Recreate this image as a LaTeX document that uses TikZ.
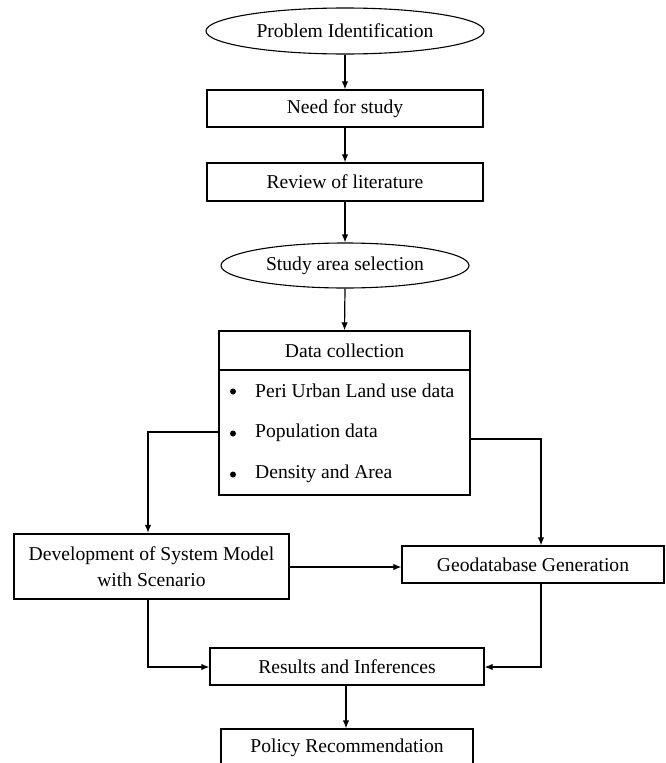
\documentclass[tikz,border=0pt]{standalone}
\usepackage{fontspec}
\setmainfont{Liberation Serif}
\usetikzlibrary{shapes.geometric,arrows.meta}
\begin{document}
\begin{tikzpicture}[x=1pt,y=-1pt,
  font=\fontsize{19.6}{24}\selectfont,
  box/.style={draw, line width=1.3pt, rectangle, inner sep=0pt, align=center},
  oval/.style={draw, line width=1.1pt, ellipse, inner sep=0pt},
  arr/.style={line width=1.2pt, -{Latex[length=8pt,width=6.5pt]}},
  dot/.style={circle, fill, inner sep=0pt, minimum size=6pt},
  item/.style={anchor=west, inner sep=0pt}]
\useasboundingbox (0,0) rectangle (665,763);
\clip (0,0) rectangle (665,763);

\node[oval, minimum width=278, minimum height=46] (pi) at (345,31) {Problem Identification};
\node[box, minimum width=276, minimum height=37] (need) at (345,108.5) {Need for study};
\node[box, minimum width=276, minimum height=38] (rev) at (345,182) {Review of literature};
\node[oval, minimum width=248, minimum height=45] (study) at (345,265.5) {Study area selection};
\node[box, minimum width=251, minimum height=39] (dhead) at (344.5,350.5) {Data collection};
\node[box, minimum width=251, minimum height=125] (dbody) at (344.5,432.5) {};
\node[dot] (b1) at (233,391.5) {};
\node[item] (t1) at (255,391) {Peri Urban Land use data};
\node[dot] (b2) at (233,433.5) {};
\node[item] (t2) at (255,433) {Population data};
\node[dot] (b3) at (233,474.5) {};
\node[item] (t3) at (255,474) {Density and Area};

\node[box, line width=2.4pt, minimum width=275, minimum height=65, font=\fontsize{19.6}{26}\selectfont] (dev) at (151.5,566.5) {Development of System Model\\with Scenario};
\node[box, minimum width=262, minimum height=37] (geo) at (533,564.5) {Geodatabase\ Generation};
\node[box, minimum width=274, minimum height=37] (res) at (347,666.5) {Results and Inferences};
\node[box, minimum width=252, minimum height=44] (pol) at (347,751) {};
\node (polt) at (347,748) {Policy Recommendation};

\draw[arr] (pi.south) -- (need.north);
\draw[arr] (need.south) -- (rev.north);
\draw[arr] (rev.south) -- (study.north);
\draw[arr] (study.south) -- (dhead.north);

\coordinate (lk) at (148,432);
\coordinate (rk) at (541,439);
\draw[arr] (dbody.west |- lk) -- (lk) -- (lk |- dev.north);
\draw[arr] (dbody.east |- rk) -- (rk) -- (rk |- geo.north);
\draw[arr] (dev.east |- 0,567) -- (geo.west |- 0,567);

\coordinate (lb) at (148,667);
\coordinate (rb) at (541,667);
\draw[arr] (lb |- dev.south) -- (lb) -- (res.west |- lb);
\draw[arr] (rb |- geo.south) -- (rb) -- (res.east |- rb);
\draw[arr] (res.south -| 346,0) -- (pol.north -| 346,0);
\end{tikzpicture}
\end{document}
